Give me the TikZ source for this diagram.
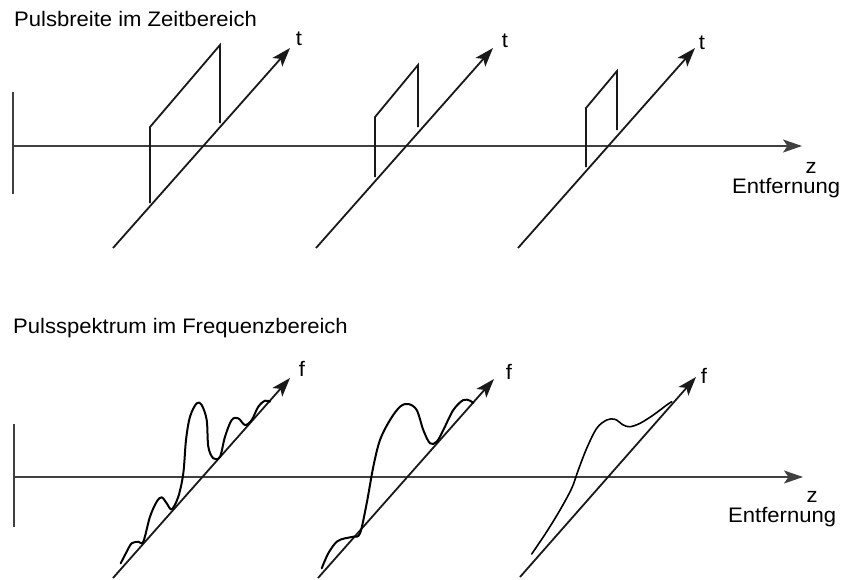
\documentclass[tikz,border=0pt]{standalone}
\usepackage{fontspec}
\setmainfont{Liberation Sans}[FakeStretch=1.05]
\usetikzlibrary{arrows.meta}
\begin{document}
\begin{tikzpicture}[x=1pt,y=-1pt,
  axisline/.style={draw=black!75,line width=2.1pt},
  diagline/.style={draw=black!90,line width=1.8pt},
  arrowed/.style={-{Stealth[length=19pt,width=13pt,inset=4.5pt]}},
  pulse/.style={draw=black!90,line width=1.8pt},
  spectrum/.style={draw=black,line width=2pt,line join=round,line cap=round},
  lbl/.style={inner sep=0pt,font=\fontsize{21}{25}\selectfont},
]
\useasboundingbox (0,0) rectangle (842,579);

% ---------------- top panel ----------------
\node[lbl,anchor=base west] (title1) at (14,26) {Pulsbreite im Zeitbereich};
\coordinate (z1s) at (13,146);
\coordinate (z1e) at (802,146);
\coordinate (v1t) at (13,92);
\coordinate (v1b) at (13,194);
\draw[axisline] (v1t) -- (v1b);
\draw[axisline,arrowed] (z1s) -- (z1e);
\node[lbl,anchor=base] (zlab1) at (811,173) {z};
\node[lbl,anchor=base west] (ent1) at (732,193) {Entfernung};

% diagonals (time axes)
\coordinate (d1s) at (113,248); \coordinate (d1e) at (290,48);
\coordinate (d2s) at (316,248); \coordinate (d2e) at (493,48);
\coordinate (d3s) at (518,248); \coordinate (d3e) at (695,48);
\draw[diagline,arrowed] (d1s) -- (d1e);
\draw[diagline,arrowed] (d2s) -- (d2e);
\draw[diagline,arrowed] (d3s) -- (d3e);
\node[lbl,anchor=base] (t1) at (299,45) {t};
\node[lbl,anchor=base] (t2) at (505,47) {t};
\node[lbl,anchor=base] (t3) at (702,49) {t};

% pulses
\coordinate (p1a) at (150,203); \coordinate (p1b) at (150,127);
\coordinate (p1c) at (220,45);  \coordinate (p1d) at (220,123);
\draw[pulse] (p1a) -- (p1b) -- (p1c) -- (p1d);
\coordinate (p2a) at (375,177); \coordinate (p2b) at (375,117);
\coordinate (p2c) at (418,65);  \coordinate (p2d) at (418,127);
\draw[pulse] (p2a) -- (p2b) -- (p2c) -- (p2d);
\coordinate (p3a) at (586,167); \coordinate (p3b) at (586,108);
\coordinate (p3c) at (617,71);  \coordinate (p3d) at (617,130);
\draw[pulse] (p3a) -- (p3b) -- (p3c) -- (p3d);

% ---------------- bottom panel ----------------
\node[lbl,anchor=base west] (title2) at (13,333) {Pulsspektrum im Frequenzbereich};
\coordinate (z2s) at (13,477);
\coordinate (z2e) at (803,477);
\coordinate (v2t) at (14,424);
\coordinate (v2b) at (14,527);
\draw[axisline] (v2t) -- (v2b);
\draw[axisline,arrowed] (z2s) -- (z2e);
\node[lbl,anchor=base] (zlab2) at (812,502) {z};
\node[lbl,anchor=base west] (ent2) at (728,522) {Entfernung};

\coordinate (e1s) at (113,578); \coordinate (e1e) at (290,378);
\coordinate (e2s) at (318,578); \coordinate (e2e) at (494,379);
\coordinate (e3s) at (520,577); \coordinate (e3e) at (696,377);
\draw[diagline,arrowed] (e1s) -- (e1e);
\draw[diagline,arrowed] (e2s) -- (e2e);
\draw[diagline,arrowed] (e3s) -- (e3e);
\node[lbl,anchor=base] (f1) at (302,376) {f};
\node[lbl,anchor=base] (f2) at (509,379) {f};
\node[lbl,anchor=base] (f3) at (704,383) {f};

% spectra
\draw[spectrum] plot[smooth,tension=0.55] coordinates {
 (120.7,563.3) (126.7,551.7) (131.7,543.3) (138.3,541.7) (143.3,541.7)
 (150,516.7) (156.7,501.7) (161.7,497.3) (166.7,503.3) (171.7,509.3)
 (178.3,496.7) (183.3,473.3) (186,440) (190,416.7) (196.7,403.3)
 (201.7,405) (206.7,420) (208.3,446.7) (213.3,458.3) (220,456.7)
 (225,436.7) (231.7,420) (238.3,418.3) (245,425) (251.7,420)
 (258.3,406.7) (265,400.7) (270,401.7)};
\draw[spectrum] plot[smooth,tension=0.55] coordinates {
 (321.7,568.3) (328.3,553.3) (336.7,541.7) (345,538.3) (353.3,536.7)
 (360,533.3) (366.7,503.3) (373.3,466.7) (380,440) (390,420)
 (400,406.7) (408.3,404) (416.7,410) (423.3,430) (430,443.3)
 (436.7,441.7) (443.3,430) (453.3,410) (463.3,400) (470,400.7) (473.3,403)};
\draw[spectrum,line width=1.6pt] plot[smooth,tension=0.55] coordinates {
 (531.7,554) (546.7,531.7) (560,510) (571.7,488.3) (578.3,470)
 (586.7,448.3) (596.7,428.3) (606.7,420) (615,419.3) (623.3,425)
 (630,426.7) (640,423.3) (653.3,415) (666.7,405) (671.7,401.7)};
\end{tikzpicture}
\end{document}
